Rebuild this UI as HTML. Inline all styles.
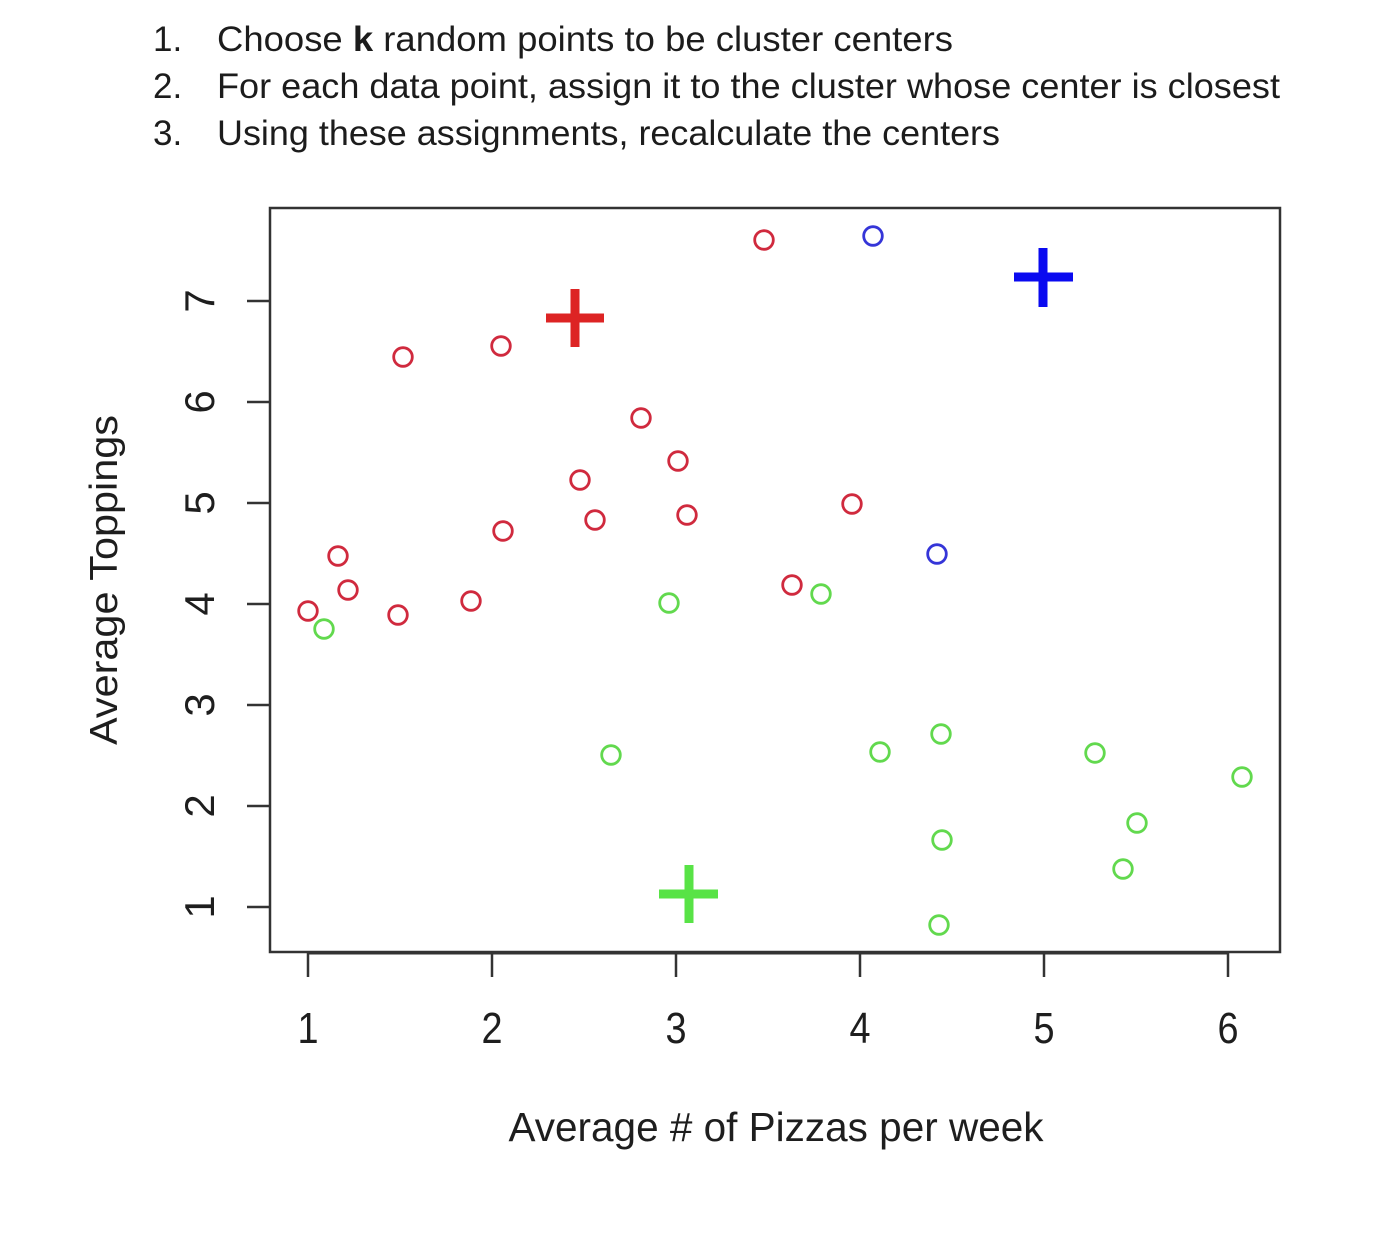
<!DOCTYPE html>
<html>
<head>
<meta charset="utf-8">
<style>
  html, body { margin: 0; padding: 0; background: #ffffff; }
  svg { display: block; }
</style>
</head>
<body>
<svg width="1373" height="1240" viewBox="0 0 1373 1240" xmlns="http://www.w3.org/2000/svg">
  <rect x="0" y="0" width="1373" height="1240" fill="#ffffff"/>

  <!-- Header list -->
  <g font-family="'Liberation Sans', Arial, sans-serif" font-size="35" fill="#1c1c1c">
    <text x="153" y="51">1.</text>
    <text x="217" y="51" textLength="736" lengthAdjust="spacingAndGlyphs">Choose <tspan font-weight="bold">k</tspan> random points to be cluster centers</text>
    <text x="153" y="98">2.</text>
    <text x="217" y="98" textLength="1063" lengthAdjust="spacingAndGlyphs">For each data point, assign it to the cluster whose center is closest</text>
    <text x="153" y="145">3.</text>
    <text x="217" y="145" textLength="783" lengthAdjust="spacingAndGlyphs">Using these assignments, recalculate the centers</text>
  </g>

  <!-- Plot frame -->
  <rect x="270" y="208" width="1010" height="744" fill="none" stroke="#333333" stroke-width="2.5"/>
  <line x1="308" y1="953" x2="1228" y2="953" stroke="#333333" stroke-width="3"/>

  <!-- X ticks -->
  <g stroke="#333333" stroke-width="2.5">
    <line x1="308" y1="953" x2="308" y2="977"/>
    <line x1="492" y1="953" x2="492" y2="977"/>
    <line x1="676" y1="953" x2="676" y2="977"/>
    <line x1="860" y1="953" x2="860" y2="977"/>
    <line x1="1044" y1="953" x2="1044" y2="977"/>
    <line x1="1228" y1="953" x2="1228" y2="977"/>
  </g>
  <!-- Y ticks -->
  <g stroke="#333333" stroke-width="2.5">
    <line x1="247" y1="907" x2="270" y2="907"/>
    <line x1="247" y1="806" x2="270" y2="806"/>
    <line x1="247" y1="705" x2="270" y2="705"/>
    <line x1="247" y1="604" x2="270" y2="604"/>
    <line x1="247" y1="503" x2="270" y2="503"/>
    <line x1="247" y1="402" x2="270" y2="402"/>
    <line x1="247" y1="301" x2="270" y2="301"/>
  </g>

  <!-- X tick labels -->
  <g font-family="'Liberation Sans', Arial, sans-serif" font-size="44" fill="#1e1e1e" text-anchor="middle">
    <text transform="translate(308,1043) scale(0.86,1)">1</text>
    <text transform="translate(492,1043) scale(0.86,1)">2</text>
    <text transform="translate(676,1043) scale(0.86,1)">3</text>
    <text transform="translate(860,1043) scale(0.86,1)">4</text>
    <text transform="translate(1044,1043) scale(0.86,1)">5</text>
    <text transform="translate(1228,1043) scale(0.86,1)">6</text>
  </g>
  <!-- Y tick labels (rotated) -->
  <g font-family="'Liberation Sans', Arial, sans-serif" font-size="42" fill="#1e1e1e" text-anchor="middle">
    <text transform="translate(214,907) rotate(-90)">1</text>
    <text transform="translate(214,806) rotate(-90)">2</text>
    <text transform="translate(214,705) rotate(-90)">3</text>
    <text transform="translate(214,604) rotate(-90)">4</text>
    <text transform="translate(214,503) rotate(-90)">5</text>
    <text transform="translate(214,402) rotate(-90)">6</text>
    <text transform="translate(214,301) rotate(-90)">7</text>
  </g>

  <!-- Axis titles -->
  <g font-family="'Liberation Sans', Arial, sans-serif" fill="#1e1e1e" text-anchor="middle">
    <text x="776" y="1141" font-size="41" textLength="535" lengthAdjust="spacingAndGlyphs">Average # of Pizzas per week</text>
    <text transform="translate(117,580) rotate(-90)" font-size="39" textLength="330" lengthAdjust="spacingAndGlyphs">Average Toppings</text>
  </g>

  <!-- Red points -->
  <g fill="none" stroke="#d02a3e" stroke-width="2.8">
    <circle cx="764" cy="240" r="9.3"/>
    <circle cx="403" cy="357" r="9.3"/>
    <circle cx="501" cy="346" r="9.3"/>
    <circle cx="641" cy="418" r="9.3"/>
    <circle cx="678" cy="461" r="9.3"/>
    <circle cx="580" cy="480" r="9.3"/>
    <circle cx="595" cy="520" r="9.3"/>
    <circle cx="687" cy="515" r="9.3"/>
    <circle cx="852" cy="504" r="9.3"/>
    <circle cx="503" cy="531" r="9.3"/>
    <circle cx="338" cy="556" r="9.3"/>
    <circle cx="348" cy="590" r="9.3"/>
    <circle cx="308" cy="611" r="9.3"/>
    <circle cx="398" cy="615" r="9.3"/>
    <circle cx="471" cy="601" r="9.3"/>
    <circle cx="792" cy="585" r="9.3"/>
  </g>

  <!-- Blue points -->
  <g fill="none" stroke="#3535d8" stroke-width="2.8">
    <circle cx="873" cy="236" r="9.3"/>
    <circle cx="937" cy="554" r="9.3"/>
  </g>

  <!-- Green points -->
  <g fill="none" stroke="#62d94e" stroke-width="2.8">
    <circle cx="324" cy="629" r="9.3"/>
    <circle cx="669" cy="603" r="9.3"/>
    <circle cx="821" cy="594" r="9.3"/>
    <circle cx="611" cy="755" r="9.3"/>
    <circle cx="880" cy="752" r="9.3"/>
    <circle cx="941" cy="734" r="9.3"/>
    <circle cx="1095" cy="753" r="9.3"/>
    <circle cx="1242" cy="777" r="9.3"/>
    <circle cx="1137" cy="823" r="9.3"/>
    <circle cx="942" cy="840" r="9.3"/>
    <circle cx="1123" cy="869" r="9.3"/>
    <circle cx="939" cy="925" r="9.3"/>
  </g>

  <!-- Cluster centers -->
  <g stroke="#dd2424" stroke-width="9">
    <line x1="546" y1="318" x2="604" y2="318"/>
    <line x1="575" y1="289" x2="575" y2="347"/>
  </g>
  <g stroke="#0a0af0" stroke-width="9">
    <line x1="1014" y1="277" x2="1073" y2="277"/>
    <line x1="1043" y1="248" x2="1043" y2="307"/>
  </g>
  <g stroke="#58e346" stroke-width="9">
    <line x1="659" y1="894" x2="718" y2="894"/>
    <line x1="689" y1="865" x2="689" y2="923"/>
  </g>
</svg>
</body>
</html>
